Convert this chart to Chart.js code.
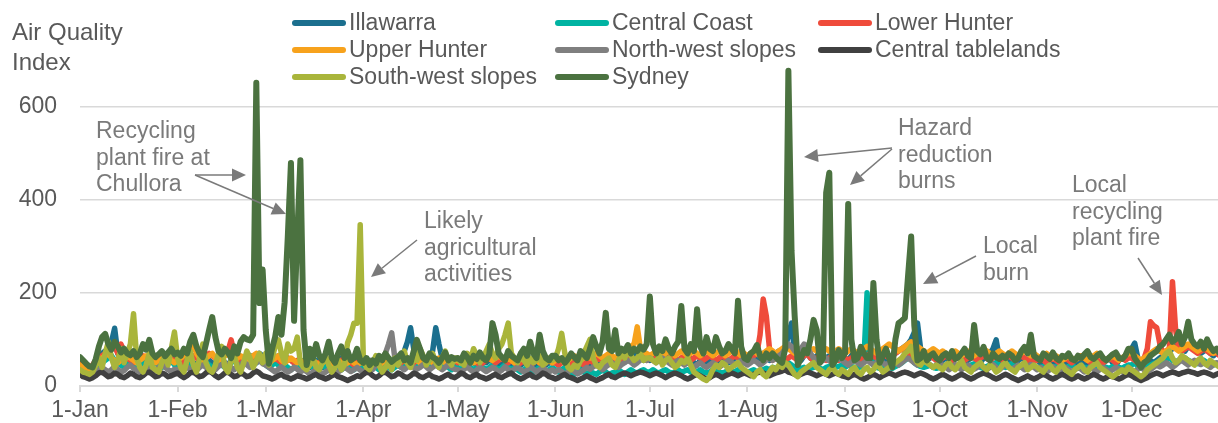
<!DOCTYPE html>
<html>
<head>
<meta charset="utf-8">
<script src="https://cdn.jsdelivr.net/npm/chart.js@4.4.0/dist/chart.umd.min.js"></script>
<style>
  html, body { margin: 0; padding: 0; background: #fff; overflow: hidden; }
  #wrap { position: relative; width: 1226px; height: 423px; }
</style>
</head>
<body>
<div id="wrap"><canvas id="aqi"></canvas></div>
<script>
// day of year (0 = 1-Jan) where each month tick sits
const monthStarts = [0, 31, 59, 90, 120, 151, 181, 212, 243, 273, 304, 334];
const monthLabels = ['1-Jan', '1-Feb', '1-Mar', '1-Apr', '1-May', '1-Jun', '1-Jul', '1-Aug', '1-Sep', '1-Oct', '1-Nov', '1-Dec'];
const yTicks = [0, 200, 400, 600];
const seriesNames = ['Illawarra', 'Central Coast', 'Lower Hunter', 'Upper Hunter', 'North-west slopes', 'Central tablelands', 'South-west slopes', 'Sydney'];

// daily maximum AQI, one line per month
const illawarra = [
  45,40,38,35,40,50,60,70,75,80, 95,124,70,55,50,60,55,50,45,55, 60,50,45,50,55,60,50,45,55,60,50,
  55,50,45,60,55,50,45,55,60,65, 55,50,45,55,60,50,45,55,60,65, 55,50,60,65,55,60,70,65,
  60,50,55,60,65,55,50,60,55,50, 45,50,55,45,40,50,55,45,40,50, 55,45,50,55,60,50,45,55,60,55,50,
  45,50,55,45,40,50,55,60,50,45, 55,60,65,75,95,125,80,60,55,50, 60,65,75,125,90,60,55,50,45,50,
  55,50,45,55,60,50,45,55,60,50, 55,60,50,45,55,60,50,45,55,50, 45,50,55,60,50,45,55,50,45,50,55,
  50,45,55,50,45,50,55,45,40,50, 45,40,45,50,55,45,50,55,60,50, 55,60,65,55,60,65,70,60,55,60,
  55,60,65,55,50,60,65,55,50,55, 60,50,55,60,50,45,55,60,50,55, 60,55,50,60,55,50,55,60,65,55,50,
  50,55,60,55,65,70,60,55,65,70, 75,70,80,110,135,70,60,55,65,70, 60,55,65,60,55,60,65,55,60,65,60,
  60,55,65,60,55,60,65,70,60,55, 65,70,60,55,60,65,70,75,80,85, 90,100,115,135,80,60,55,60,65,55,
  50,55,60,55,50,60,65,55,50,55, 60,65,55,50,60,65,70,80,99,60, 50,60,55,50,45,55,60,55,50,55,60,
  55,50,45,55,60,50,45,55,50,45, 55,60,50,45,55,50,45,55,60,50, 45,50,55,60,50,45,55,60,65,70,
  80,92,60,50,55,60,55,50,55,60, 65,70,75,80,85,90,80,75,85,90, 80,75,70,75,80,70,65,70,75,70,65
];
const centralCoast = [
  40,35,32,30,35,40,45,50,55,60, 65,55,50,45,40,45,50,45,40,45, 50,45,40,45,50,45,40,45,50,55,45,
  45,40,45,50,45,40,45,50,55,50, 45,40,45,50,45,40,45,50,55,50, 45,50,55,50,45,50,55,50,
  45,40,45,50,45,40,45,40,35,40, 45,40,35,40,45,40,35,40,45,40, 35,40,45,40,35,40,45,40,35,40,45,
  40,35,40,45,40,35,40,45,40,35, 40,45,40,45,50,55,45,40,45,50, 45,40,45,50,45,40,45,40,35,40,
  40,35,40,45,40,35,40,45,40,35, 40,45,40,35,40,45,40,35,40,35, 30,35,40,35,30,35,40,35,30,35,40,
  35,30,35,40,35,30,25,30,35,30, 25,30,28,25,30,35,30,25,28,30, 35,30,25,30,35,30,28,32,35,30,
  30,35,30,28,32,35,30,28,30,35, 30,32,35,30,28,30,35,30,28,30, 35,32,30,28,30,35,32,30,35,30,28,
  30,32,35,30,32,35,38,35,40,38, 35,40,45,50,45,40,35,38,40,35, 38,40,42,38,35,40,42,38,40,42,45,
  40,45,42,40,38,42,60,200,60,45, 40,38,42,45,40,38,42,45,50,55, 60,58,50,45,42,40,42,45,40,38,
  40,42,45,40,38,42,45,40,38,42, 45,48,45,40,38,42,45,48,50,45, 42,40,45,48,45,42,40,45,48,45,42,
  40,38,42,45,40,38,42,45,40,38, 42,45,40,38,42,40,38,42,45,40, 38,42,40,38,42,45,40,38,42,45,
  45,50,42,38,40,42,45,48,50,52, 55,58,60,55,52,55,58,60,55,52, 50,48,52,55,50,48,45,48,50,45,42
];
const lowerHunter = [
  50,45,42,40,45,55,60,65,70,75, 80,85,70,90,75,60,55,50,55,60, 65,60,55,60,65,60,55,50,55,60,55,
  60,55,50,55,60,65,60,55,60,65, 70,65,60,55,60,70,75,99,70,60, 55,60,65,60,55,60,65,60,
  55,50,55,60,55,50,55,60,55,50, 55,50,45,50,55,50,45,50,55,60, 55,50,45,50,55,60,55,50,45,50,55,
  50,45,50,55,50,45,50,55,50,45, 50,55,50,55,60,55,50,55,60,55, 50,55,60,55,50,55,60,55,50,55,
  50,55,50,45,50,55,50,45,50,55, 60,55,50,55,60,55,50,55,50,45, 50,55,50,45,50,55,50,45,50,55,50,
  50,45,50,55,50,45,50,55,50,45, 50,55,50,55,60,55,50,55,60,55, 50,55,60,65,60,55,60,65,60,55,
  60,55,60,65,60,55,60,65,60,55, 60,65,60,55,60,65,60,55,60,65, 60,55,60,65,60,55,60,65,60,55,60,
  55,60,65,70,110,187,150,80,55,60, 65,60,55,60,65,60,55,60,65,70, 60,55,60,65,60,55,60,65,60,55,60,
  60,55,60,65,60,55,60,65,70,65, 60,65,70,65,60,65,70,75,80,75, 70,65,70,75,70,65,60,65,60,55,
  55,60,65,60,55,60,65,60,55,60, 65,60,55,60,65,60,55,60,65,60, 55,60,65,60,55,60,65,60,55,60,55,
  55,60,55,50,55,60,55,50,55,60, 55,50,55,60,65,60,55,50,55,60, 55,50,55,60,55,50,55,60,55,60,
  60,55,50,55,60,80,138,130,125,90, 70,75,80,224,120,80,75,80,85,80, 75,70,75,80,75,70,75,70,65,70,75
];
const upperHunter = [
  45,40,38,35,40,45,55,60,65,70, 60,55,50,55,60,65,60,55,50,55, 60,65,60,55,50,55,60,65,60,55,50,
  55,60,65,70,75,90,70,60,55,60, 65,70,60,55,60,65,70,60,55,60, 65,60,55,60,65,70,60,55,
  55,50,55,60,65,55,50,55,60,55, 50,55,50,45,50,55,50,45,50,55, 50,45,50,55,50,45,50,55,50,45,50,
  50,45,50,55,50,45,50,55,50,45, 50,55,60,55,50,55,60,55,50,55, 60,55,50,55,60,55,50,55,60,55,
  55,50,55,60,55,50,55,60,65,70, 60,55,60,65,60,55,60,55,50,55, 60,55,50,55,60,55,50,55,60,55,50,
  55,60,55,50,55,60,65,60,55,60, 65,60,65,70,65,60,65,70,65,60, 65,70,75,80,85,90,127,80,65,70,
  65,70,75,70,65,70,75,70,65,70, 75,70,65,70,75,70,65,70,75,70, 65,70,75,70,65,70,75,80,70,65,70,
  65,70,75,70,65,70,75,80,75,70, 75,80,85,80,75,70,75,80,75,70, 75,80,75,70,75,80,75,70,75,80,75,
  70,75,80,75,70,75,80,85,80,75, 70,75,80,85,90,85,80,75,80,85, 90,95,90,85,80,75,70,75,80,75,
  70,75,70,65,70,75,70,65,70,75, 70,65,70,75,80,75,70,65,70,75, 70,65,70,75,70,65,70,75,70,65,70,
  65,60,65,70,65,60,65,60,55,60, 65,60,55,60,65,60,55,60,65,70, 65,60,55,60,65,60,55,60,65,70,
  70,65,60,55,60,65,70,75,80,75, 70,75,80,85,80,75,80,85,90,85, 80,75,80,85,80,75,70,75,80,75,70
];
const nwSlopes = [
  30,25,22,20,25,30,35,40,35,30, 35,42,36,30,33,40,45,38,34,30, 36,41,35,30,34,40,46,40,35,31,36,
  35,30,36,41,35,30,34,40,45,40, 36,31,35,42,46,50,44,40,35,41, 45,52,46,40,44,50,55,48,
  45,40,35,30,36,41,35,30,34,40, 36,30,35,31,25,30,36,31,26,30, 35,31,26,30,35,40,36,31,35,40,34,
  30,35,40,36,45,55,60,70,90,114, 60,45,40,35,41,45,40,36,40,46, 41,35,40,45,41,35,40,46,40,36,
  35,30,36,41,35,30,34,40,36,31, 35,40,36,30,34,41,35,31,36,40, 35,30,34,41,36,30,35,40,34,30,35,
  30,35,31,25,30,36,31,26,30,35, 40,36,41,45,40,35,41,46,50,45, 40,46,50,55,51,45,50,56,60,55,
  60,55,50,56,60,54,50,45,51,55, 50,45,51,45,40,46,50,44,40,45, 50,46,40,45,50,55,51,45,50,55,50,
  45,50,55,51,45,50,56,60,55,60, 65,70,80,90,85,75,70,80,90,85, 70,60,55,50,56,60,54,50,55,60,55,
  50,45,51,55,50,45,50,56,50,45, 51,55,50,45,50,55,51,45,50,56, 60,55,50,45,51,55,50,45,40,45,
  40,45,41,35,40,46,40,35,41,45, 40,36,40,45,41,35,40,46,40,35, 41,45,40,36,40,45,41,35,40,46,40,
  35,40,36,30,35,41,35,30,36,40, 35,31,35,40,36,30,35,41,35,30, 36,40,35,31,35,40,36,30,35,40,
  35,30,36,40,35,31,35,40,45,41, 45,50,46,40,45,51,55,50,45,51, 55,50,46,50,45,40,46,50,45,40,45
];
const centralTablelands = [
  25,20,18,15,18,22,28,30,25,20, 22,28,25,20,18,22,28,25,20,18, 22,28,30,25,20,22,28,25,20,22,25,
  28,22,18,22,28,30,25,20,22,28, 32,28,22,18,22,28,30,25,20,22, 28,25,20,22,28,32,28,22,
  20,18,15,18,22,25,20,18,15,18, 22,20,18,15,18,22,25,20,18,15, 18,22,25,20,18,15,12,15,18,22,20,
  25,30,28,22,18,22,28,30,25,20, 22,28,25,20,18,22,28,25,20,18, 22,25,20,18,15,18,22,25,20,18,
  22,28,25,20,18,22,25,20,18,15, 18,22,25,20,18,22,25,28,22,18, 15,18,22,25,20,18,22,28,25,20,18,
  15,18,22,25,20,18,15,12,15,18, 22,18,15,12,15,18,22,25,20,18, 22,25,28,25,22,25,28,30,28,25,
  22,25,28,25,22,18,22,25,28,25, 22,18,15,18,22,25,22,18,15,18, 22,25,22,18,22,25,28,25,22,25,28,
  25,22,25,28,30,28,25,22,25,28, 30,32,35,30,28,25,22,25,28,30, 28,25,22,25,28,25,22,25,28,25,22,
  20,18,22,25,22,18,15,18,22,25, 22,18,22,25,28,25,22,25,28,30, 28,25,22,25,28,25,22,18,15,18,
  22,25,22,18,15,18,22,25,22,18, 15,18,22,25,28,25,22,18,15,18, 22,25,22,18,15,12,15,18,22,18,15,
  18,22,25,22,18,15,18,22,25,22, 18,15,18,22,18,15,18,22,25,22, 18,15,18,22,20,18,15,18,22,25,
  22,18,15,12,15,18,22,25,28,25, 22,25,28,30,28,25,28,30,32,30, 28,25,28,30,28,25,22,25,28,25,22
];
const swSlopes = [
  35,30,28,25,30,45,60,40,70,95, 60,40,55,80,50,70,90,155,60,40, 30,45,70,40,35,30,50,65,45,80,116,
  60,40,30,55,75,45,30,60,90,50, 35,30,45,70,85,40,30,55,65,40, 30,50,75,60,40,55,70,50,
  70,45,60,85,99,70,50,90,75,80, 105,50,40,35,45,60,40,35,50,65, 45,30,40,55,35,45,93,110,135,135,346,
  55,40,35,50,65,45,30,40,50,35, 60,45,55,75,50,40,60,55,80,65, 45,55,70,50,40,60,75,55,45,60,
  60,50,45,70,55,80,65,50,60,75, 90,70,60,80,90,110,135,70,60,50, 70,55,45,60,50,55,65,45,50,60,55,
  60,80,113,70,40,35,45,40,55,70, 85,100,60,45,40,50,55,60,45,40, 55,70,60,75,65,55,60,70,55,60,
  60,55,50,65,45,55,60,50,40,45, 55,50,60,45,30,25,20,15,12,20, 35,45,40,50,45,35,40,45,50,40,35,
  30,25,20,30,35,25,20,30,40,35, 45,40,50,45,35,25,20,30,35,40, 45,50,40,35,30,25,35,40,30,25,35,
  30,25,35,40,30,25,35,40,30,35, 45,40,30,35,40,45,50,55,60,70, 75,85,60,50,45,55,50,45,40,45,
  40,35,45,50,40,35,45,55,40,35, 30,40,45,50,40,35,45,40,30,35, 45,50,40,35,30,40,45,50,35,40,45,
  40,35,30,40,45,35,30,40,45,35, 30,25,35,40,45,35,30,40,45,50, 40,35,30,25,20,25,30,35,30,40,
  35,30,25,20,25,35,40,45,50,55, 60,70,75,60,50,55,65,60,55,50, 45,55,60,50,45,55,50,45,40,45,50
];
const sydney = [
  62,55,48,42,40,58,85,105,112,90, 78,95,85,72,80,70,66,75,62,70, 90,78,99,70,62,68,75,64,72,80,68,
  72,65,80,70,95,110,85,70,62,90, 120,148,105,75,68,80,72,60,85,70, 95,105,100,98,110,651,178,250,
  120,48,80,106,148,110,180,320,479,140, 320,485,120,45,80,60,90,65,55,70, 95,60,50,70,85,60,75,55,60,80,55,
  50,60,45,55,48,65,55,70,60,52, 58,62,70,55,60,50,75,99,80,60, 55,70,62,58,50,60,72,55,62,58,
  60,55,70,62,50,65,58,72,60,55, 68,135,110,70,62,55,75,65,60,55, 70,80,65,95,70,60,110,75,60,55,65,
  65,55,60,50,58,70,62,55,75,68, 60,80,105,85,70,95,157,80,75,120, 70,80,75,88,70,80,75,85,78,90,
  192,90,70,85,75,100,80,70,85,95, 172,80,70,90,75,165,85,70,105,80, 75,105,85,70,75,90,80,70,183,85,60,
  56,70,75,88,65,55,70,60,70,62, 55,50,80,677,290,150,45,60,77,70, 100,142,120,50,60,415,458,45,55,77,60,
  70,391,100,55,60,84,70,60,60,221, 100,50,65,80,60,40,100,135,140,146, 235,321,130,55,60,75,55,65,70,60,
  55,65,70,60,75,58,62,70,80,65, 60,131,75,68,84,60,55,70,62,58, 65,60,70,65,55,60,75,84,70,110,65,
  60,55,70,65,58,72,60,55,65,62, 70,58,55,65,60,68,75,62,58,65, 70,60,55,62,68,72,60,58,65,80,
  80,60,50,40,50,55,65,70,75,85, 90,100,110,95,100,116,90,105,138,100, 90,85,95,80,100,85,75,80,70,85,100
];

const series = [illawarra, centralCoast, lowerHunter, upperHunter, nwSlopes, centralTablelands, swSlopes, sydney];
const colors = ['#1b6f8e', '#00b3a2', '#ef4b3b', '#f7a21c', '#7f7f7f', '#404040', '#a9b53b', '#4b7240'];

const FONT = "'Liberation Sans', Arial, sans-serif";
const TEXT = '#595959';
const NOTE = '#7a7a7a';

// callouts, in canvas pixels: text block + arrows [x1, y1, tipX, tipY]
const notes = [
  { lines: ['Recycling', 'plant fire at', 'Chullora'], x: 96, y: 138, arrows: [[195, 175, 246, 175], [195, 175, 286, 214]] },
  { lines: ['Likely', 'agricultural', 'activities'], x: 424, y: 228, arrows: [[417, 240, 371, 277]] },
  { lines: ['Hazard', 'reduction', 'burns'], x: 898, y: 135, arrows: [[892, 148, 804, 157], [892, 149, 850, 185]] },
  { lines: ['Local', 'burn'], x: 983, y: 253, arrows: [[976, 256, 923, 284]] },
  { lines: ['Local', 'recycling', 'plant fire'], x: 1072, y: 192, arrows: [[1138, 258, 1162, 295]] }
];

function arrow(ctx, x1, y1, x2, y2) {
  const a = Math.atan2(y2 - y1, x2 - x1);
  const len = 14, half = 6.5;
  const bx = x2 - len * Math.cos(a), by = y2 - len * Math.sin(a);
  ctx.beginPath();
  ctx.moveTo(x1, y1);
  ctx.lineTo(bx, by);
  ctx.stroke();
  ctx.beginPath();
  ctx.moveTo(x2, y2);
  ctx.lineTo(bx + half * Math.sin(a), by - half * Math.cos(a));
  ctx.lineTo(bx - half * Math.sin(a), by + half * Math.cos(a));
  ctx.closePath();
  ctx.fill();
}

const decorations = {
  id: 'decorations',
  afterDraw(chart) {
    const ctx = chart.ctx;
    ctx.save();

    // axis title
    ctx.fillStyle = TEXT;
    ctx.font = '24px ' + FONT;
    ctx.textBaseline = 'alphabetic';
    ctx.textAlign = 'left';
    ctx.fillText('Air Quality', 12, 40);
    ctx.fillText('Index', 12, 70);

    // legend, three columns
    const cols = [292, 555, 818], rows = [23, 50, 77];
    ctx.font = '23px ' + FONT;
    ctx.textBaseline = 'middle';
    ctx.lineCap = 'round';
    seriesNames.forEach((name, i) => {
      const x = cols[i % 3], y = rows[Math.floor(i / 3)];
      ctx.strokeStyle = colors[i];
      ctx.lineWidth = 6;
      ctx.beginPath();
      ctx.moveTo(x + 3, y);
      ctx.lineTo(x + 51, y);
      ctx.stroke();
      ctx.fillStyle = TEXT;
      ctx.fillText(name, x + 57, y + 1);
    });

    // callouts
    ctx.font = '23px ' + FONT;
    ctx.textBaseline = 'alphabetic';
    ctx.fillStyle = NOTE;
    ctx.strokeStyle = NOTE;
    ctx.lineWidth = 1.5;
    ctx.lineCap = 'butt';
    notes.forEach(n => {
      n.lines.forEach((t, k) => ctx.fillText(t, n.x, n.y + k * 26.7));
      n.arrows.forEach(a => arrow(ctx, a[0], a[1], a[2], a[3]));
    });
    ctx.restore();
  }
};

new Chart(document.getElementById('aqi'), {
  type: 'line',
  data: {
    datasets: series.map((vals, i) => ({
      label: seriesNames[i],
      data: vals.map((v, d) => ({ x: d, y: v })),
      borderColor: colors[i],
      backgroundColor: colors[i],
      borderWidth: i === 7 ? 6 : 5.5,
      borderJoinStyle: 'round',
      borderCapStyle: 'round',
      pointRadius: 0,
      tension: 0,
      fill: false,
      order: series.length - i
    }))
  },
  options: {
    responsive: true,
    maintainAspectRatio: false,
    animation: false,
    layout: { padding: { top: 60, right: 0, bottom: 0, left: 0 } },
    plugins: { legend: { display: false }, tooltip: { enabled: false } },
    scales: {
      x: {
        type: 'linear', min: 0, max: 364,
        afterBuildTicks: s => { s.ticks = monthStarts.map(v => ({ value: v })); },
        afterFit: s => { s.height = 37; },
        ticks: {
          autoSkip: false, maxRotation: 0, padding: 5, color: TEXT,
          font: { family: FONT, size: 23 },
          callback: v => monthLabels[monthStarts.indexOf(v)]
        },
        grid: { drawOnChartArea: false, drawTicks: true, tickLength: 6, color: '#d9d9d9', lineWidth: 2 },
        border: { display: true, color: '#d9d9d9', width: 2 }
      },
      y: {
        min: 0, max: 700,
        afterBuildTicks: s => { s.ticks = yTicks.map(v => ({ value: v })); },
        afterFit: s => { s.width = 80; },
        ticks: { padding: 23, color: TEXT, font: { family: FONT, size: 23 } },
        grid: { color: '#d9d9d9', lineWidth: 1.5, drawTicks: false },
        border: { display: false }
      }
    }
  },
  plugins: [decorations]
});
</script>
</body>
</html>
